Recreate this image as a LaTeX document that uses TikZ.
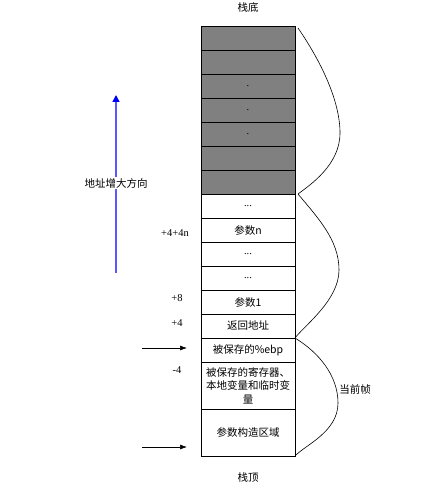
\documentclass[tikz,border=0pt]{standalone}
\usepackage{fontspec}
\setmainfont{Liberation Serif}
\newfontfamily\cjk{Noto Sans CJK SC}
\usetikzlibrary{positioning,arrows.meta}

\begin{document}
\begin{tikzpicture}[x=1pt, y=-1pt,
    font=\fontsize{10.5}{13.5}\selectfont,
    cell/.style={draw=black, fill=white, line width=0.7pt, minimum width=94pt, minimum height=24pt, inner sep=1pt, outer sep=0pt, align=center},
    shaded/.style={cell, fill=gray},
    tall/.style={cell, minimum height=47pt},
    offset/.style={inner sep=1pt},
    ptr/.style={-{Latex[length=7pt,width=5pt]}, line width=0.6pt},
    brace/.style={line width=0.6pt}
]
\useasboundingbox (0,0) rectangle (422,486);

% stack cells, bottom of stack at the top
\node[shaded, anchor=north west] (g1) at (201,26) {};
\node[shaded, below=0pt of g1] (g2) {};
\node[shaded, below=0pt of g2] (g3) {.};
\node[shaded, below=0pt of g3] (g4) {.};
\node[shaded, below=0pt of g4] (g5) {.};
\node[shaded, below=0pt of g5] (g6) {};
\node[shaded, below=0pt of g6] (g7) {};
\node[cell, below=0pt of g7] (w1) {...};
\node[cell, below=0pt of w1] (parn) {\cjk{参数}n};
\node[cell, below=0pt of parn] (w2) {...};
\node[cell, below=0pt of w2] (w3) {...};
\node[cell, below=0pt of w3] (par1) {\cjk{参数}1};
\node[cell, below=0pt of par1] (ret) {\cjk{返回地址}};
\node[cell, below=0pt of ret] (ebp) {\cjk{被保存的}\%ebp};
\node[tall, below=0pt of ebp] (regs) {\cjk{被保存的寄存器、}\\\cjk{本地变量和临时变}\\\cjk{量}};
\node[tall, below=0pt of regs] (args) {\cjk{参数构造区域}};

\node[above=10pt of g1] (bottom) {\cjk{栈底}};
\node[below=13pt of args] (top) {\cjk{栈顶}};

% offsets from %ebp
\node[offset] (o4n) at (175,233) {+4+4n};
\node[offset] (o8) at (177,298) {+8};
\node[offset] (o4) at (177,323) {+4};
\node[offset] (om4) at (177,370) {-4};

% pointers
\draw[ptr] ([xshift=-59pt,yshift=2pt]ebp.west) -- ([xshift=-14pt,yshift=2pt]ebp.west);
\draw[ptr] ([xshift=-59pt,yshift=9pt]args.south west) -- ([xshift=-14pt,yshift=9pt]args.south west);

% address growth
\coordinate (grow0) at (116,273);
\coordinate (grow1) at (116,95);
\draw[blue!65!white, line width=1.5pt, -{Triangle[length=7pt,width=7pt,color=blue]}] (grow0) -- (grow1)
    node[pos=0.505, fill=white, inner sep=1pt, text=black] (growlbl) {\cjk{地址增大方向}};

% frame braces
\draw[brace] ([xshift=3pt,yshift=-2pt]g1.north east) .. controls (320,60) and (340,100) .. (340,133)
    .. controls (340,165) and (310,185) .. ([xshift=3pt]w1.north east);
\draw[brace] ([xshift=3pt]w1.north east) .. controls (318,218) and (339,240) .. (339,270)
    .. controls (339,300) and (305,325) .. (ebp.north east);
\draw[brace] (ebp.north east) .. controls (318,352) and (338,375) .. (338,403)
    .. controls (338,432) and (305,445) .. (args.south east);
\node (frame) at (355,389) {\cjk{当前帧}};

\end{tikzpicture}
\end{document}
